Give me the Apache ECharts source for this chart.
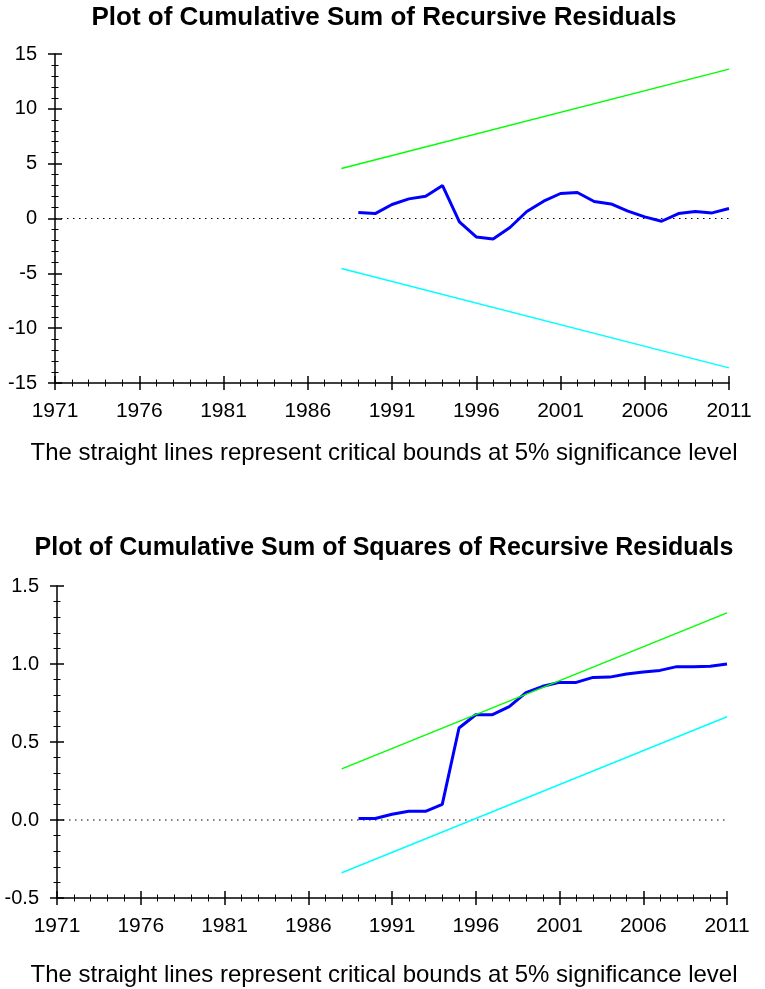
<!DOCTYPE html>
<html>
<head>
    <meta charset="utf-8">
    <title>CUSUM / CUSUMSQ</title>
    <script src="https://cdn.jsdelivr.net/npm/echarts@6/dist/echarts.min.js"></script>
    <style>
        html, body { margin: 0; padding: 0; background: #fff; }
        #main { width: 765px; height: 989px; }
    </style>
</head>
<body>
<div id="main"></div>
<script>
    // years of the recursive residuals
    var years = [1989, 1990, 1991, 1992, 1993, 1994, 1995, 1996, 1997, 1998, 1999, 2000,
                 2001, 2002, 2003, 2004, 2005, 2006, 2007, 2008, 2009, 2010, 2011];
    var cusum = [0.55, 0.45, 1.28, 1.79, 2.03, 3.0, -0.3, -1.68, -1.86, -0.82, 0.64, 1.58,
                 2.28, 2.37, 1.55, 1.33, 0.67, 0.15, -0.25, 0.45, 0.64, 0.51, 0.91];
    var cusumsq = [0.01, 0.01, 0.037, 0.056, 0.056, 0.10, 0.59, 0.675, 0.675, 0.727, 0.816, 0.857,
                   0.882, 0.882, 0.914, 0.916, 0.936, 0.949, 0.959, 0.983, 0.983, 0.985, 1.0];
    // critical bounds (straight lines, start and end)
    var boundYears = [1988, 2011];
    var cusumUpper = [4.56, 13.62];
    var cusumLower = [-4.56, -13.62];
    var sqUpper = [0.328, 1.328];
    var sqLower = [-0.338, 0.662];
    var yearTicks = [1971, 1976, 1981, 1986, 1991, 1996, 2001, 2006, 2011];
    var yTicks1 = [-15, -10, -5, 0, 5, 10, 15];
    var yTicks2 = [-0.5, 0.0, 0.5, 1.0, 1.5];

    var FONT = "'Liberation Sans', Arial, Helvetica, sans-serif";

    function pairs(xs, ys) {
        return xs.map(function (x, i) { return [x, ys[i]]; });
    }

    // two axes per side so the ticks cross the axis line
    function xAxes(grid) {
        var base = {
            type: 'value', gridIndex: grid, position: 'bottom',
            min: yearTicks[0], max: yearTicks[yearTicks.length - 1], interval: 5,
            splitLine: {show: false}
        };
        return [
            Object.assign({}, base, {
                axisLine: {onZero: false, lineStyle: {color: '#000', width: 1.5}},
                axisTick: {inside: false, length: 7, lineStyle: {color: '#000', width: 1.5}},
                minorTick: {show: true, splitNumber: 5, length: 3.5, lineStyle: {color: '#000', width: 1}},
                axisLabel: {color: '#000', fontSize: 21, fontFamily: FONT, margin: 18,
                    formatter: function (v) { return String(v); }}
            }),
            Object.assign({}, base, {
                axisLine: {show: false, onZero: false},
                axisTick: {inside: true, length: 7, lineStyle: {color: '#000', width: 1.5}},
                minorTick: {show: true, splitNumber: 5, length: 3.5, lineStyle: {color: '#000', width: 1}},
                axisLabel: {show: false}
            })
        ];
    }

    function yAxes(grid, ticks, fmt) {
        var base = {
            type: 'value', gridIndex: grid, position: 'left',
            min: ticks[0], max: ticks[ticks.length - 1], interval: ticks[1] - ticks[0],
            splitLine: {show: false}
        };
        return [
            Object.assign({}, base, {
                axisLine: {onZero: false, lineStyle: {color: '#000', width: 1.5}},
                axisTick: {inside: false, length: 7, lineStyle: {color: '#000', width: 1.5}},
                minorTick: {show: true, splitNumber: 5, length: 3.5, lineStyle: {color: '#000', width: 1}},
                axisLabel: {color: '#000', fontSize: 20, fontFamily: FONT, margin: 18, formatter: fmt}
            }),
            Object.assign({}, base, {
                axisLine: {show: false, onZero: false},
                axisTick: {inside: true, length: 7, lineStyle: {color: '#000', width: 1.5}},
                minorTick: {show: true, splitNumber: 5, length: 3.5, lineStyle: {color: '#000', width: 1}},
                axisLabel: {show: false}
            })
        ];
    }

    function line(name, xi, yi, data, color, width, type) {
        return {
            name: name, type: 'line', xAxisIndex: xi, yAxisIndex: yi,
            data: data, showSymbol: false, symbol: 'none', animation: false,
            lineStyle: {color: color, width: width, type: type || 'solid'},
            z: 3
        };
    }

    function text(str, y, size, bold) {
        return {
            type: 'text', x: 384, y: y,
            style: {
                text: str, fill: '#000',
                font: (bold ? 'bold ' : '') + size + 'px ' + FONT,
                align: 'center', verticalAlign: 'middle',
                textAlign: 'center', textVerticalAlign: 'middle'
            }
        };
    }

    var chart = echarts.init(document.getElementById('main'));
    var option = {
        backgroundColor: '#fff',
        animation: false,
        grid: [
            {left: 55, top: 54, width: 674, height: 329},
            {left: 57, top: 586, width: 670, height: 312}
        ],
        xAxis: xAxes(0).concat(xAxes(1)),
        yAxis: yAxes(0, yTicks1, function (v) { return String(v); })
            .concat(yAxes(1, yTicks2, function (v) { return v.toFixed(1); })),
        graphic: [
            text('Plot of Cumulative Sum of Recursive Residuals', 18, 26, true),
            text('The straight lines represent critical bounds at 5% significance level', 453, 24, false),
            text('Plot of Cumulative Sum of Squares of Recursive Residuals', 548, 25, true),
            text('The straight lines represent critical bounds at 5% significance level', 975, 24, false)
        ],
        series: [
            line('zero1', 0, 0, [[1971, 0], [2011, 0]], '#000', 1.2, [1.5, 4.5]),
            line('CUSUM', 0, 0, pairs(years, cusum), '#0000ff', 3),
            line('upper1', 0, 0, pairs(boundYears, cusumUpper), '#00ff00', 1.5),
            line('lower1', 0, 0, pairs(boundYears, cusumLower), '#00ffff', 1.5),
            line('zero2', 2, 2, [[1971, 0], [2011, 0]], '#000', 1.2, [1.5, 4.5]),
            line('CUSUMSQ', 2, 2, pairs(years, cusumsq), '#0000ff', 3),
            line('upper2', 2, 2, pairs(boundYears, sqUpper), '#00ff00', 1.5),
            line('lower2', 2, 2, pairs(boundYears, sqLower), '#00ffff', 1.5)
        ]
    };
    chart.setOption(option);
</script>
</body>
</html>
